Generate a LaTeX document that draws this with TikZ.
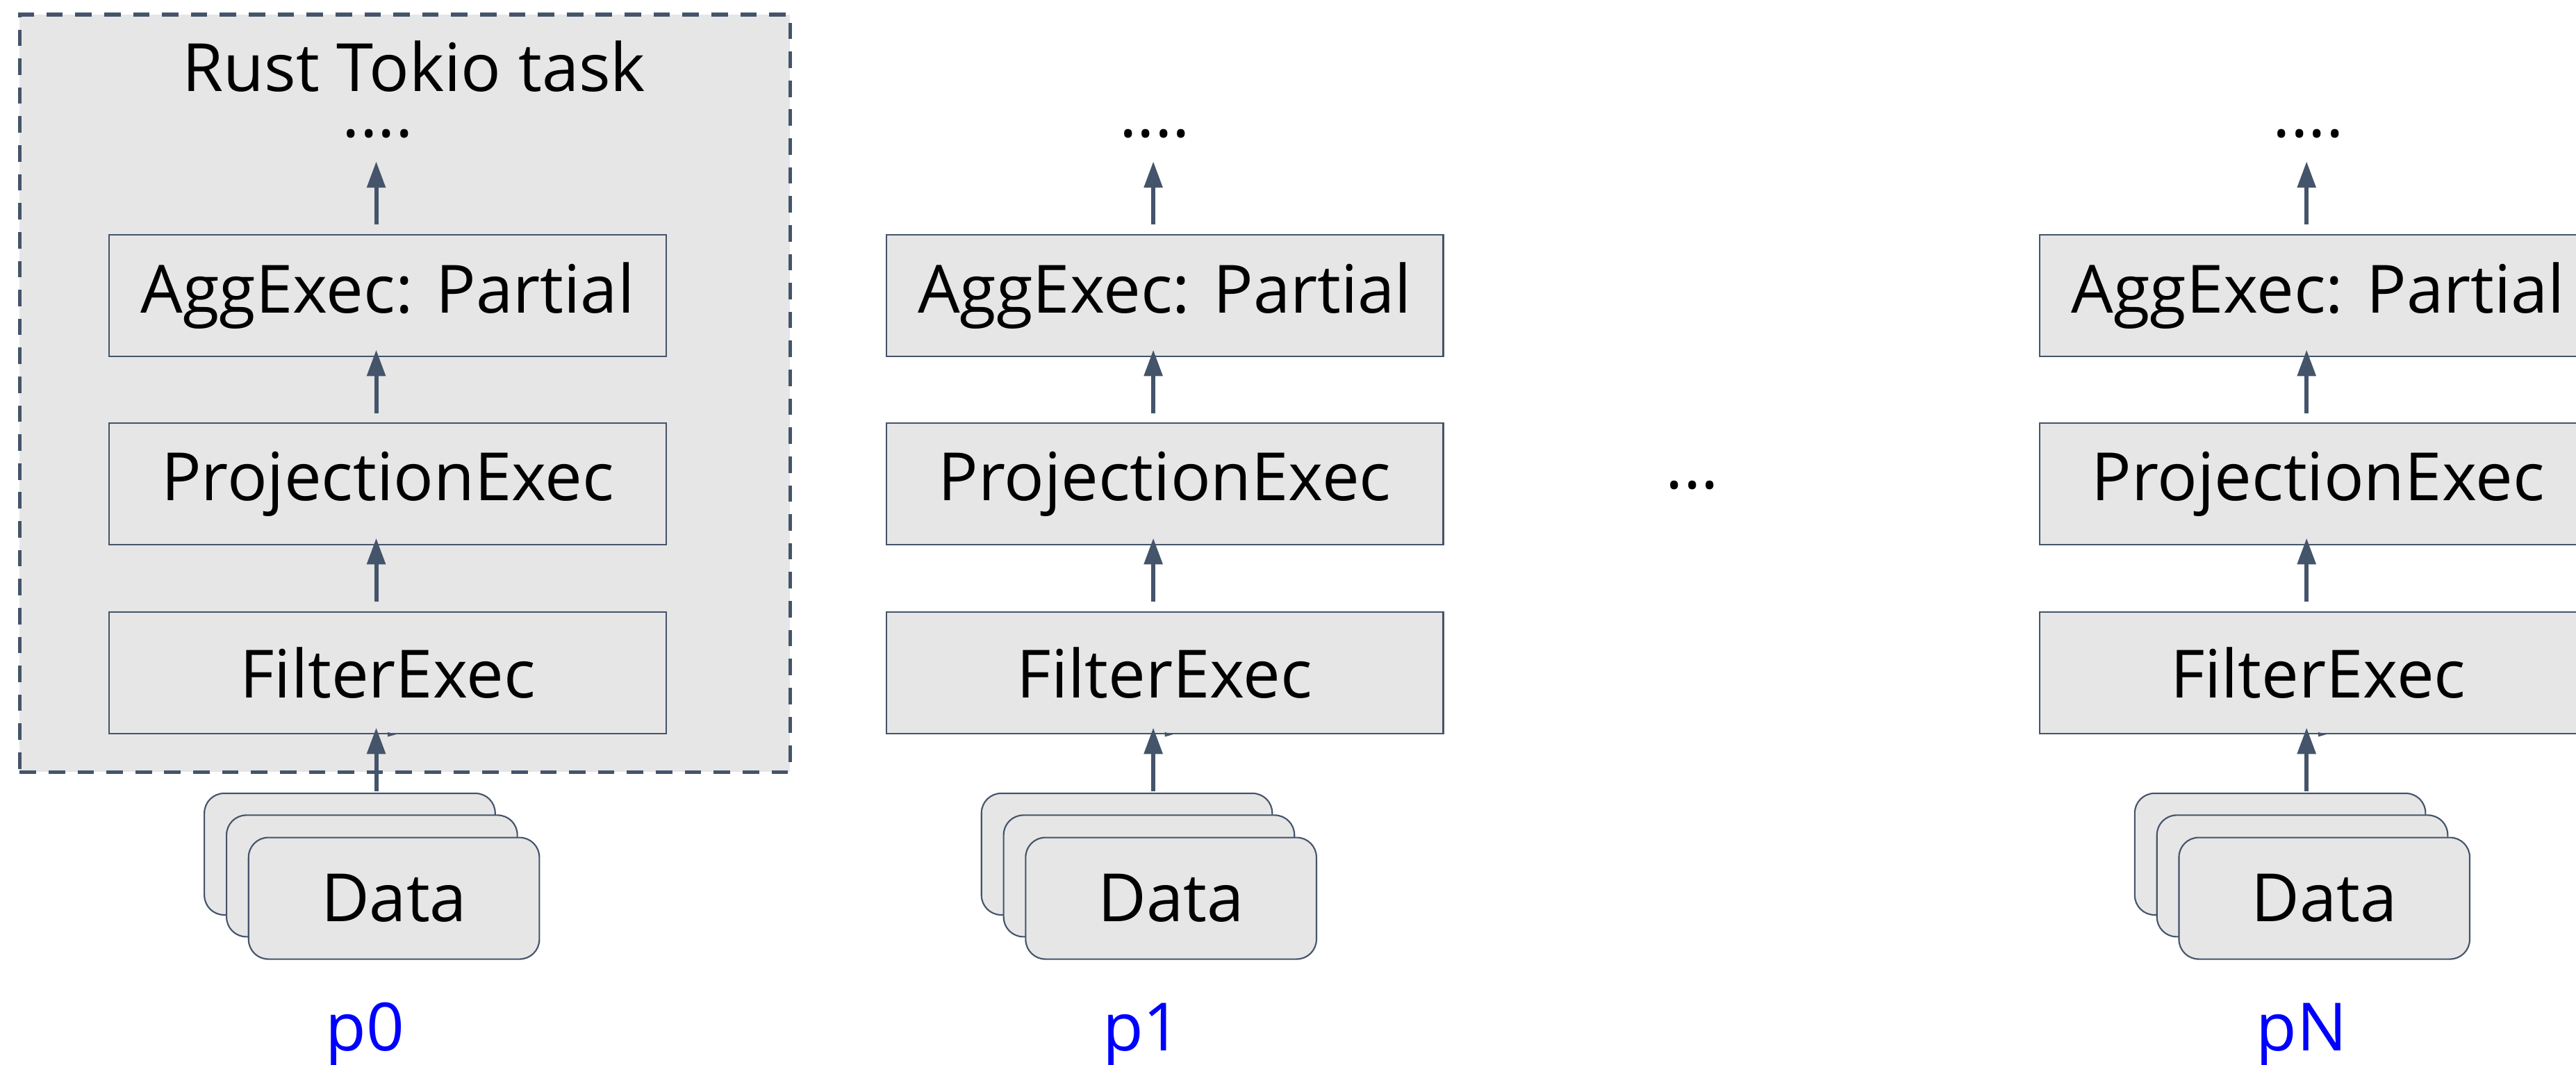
\documentclass[tikz,border=0pt]{standalone}
\usepackage{fontspec}
\setmainfont{Open Sans}
\usetikzlibrary{arrows.meta}
\definecolor{slate}{HTML}{44546A}
\definecolor{boxgray}{HTML}{E6E6E6}
\tikzset{
  opbox/.style={draw=slate, line width=0.9pt, fill=boxgray,
    minimum width=339pt, minimum height=74pt, inner sep=0pt},
  datacard/.style={draw=slate, line width=0.9pt, fill=boxgray, rounded corners=12pt,
    minimum width=177pt, minimum height=74pt, inner sep=0pt},
  flow/.style={draw=slate, line width=2.5pt, -{Triangle[length=16pt,width=11pt]}},
  taskbox/.style={draw=slate, fill=boxgray, line width=2.4pt, dash pattern=on 10pt off 7.6pt,
    minimum width=469pt, minimum height=461pt, inner sep=0pt},
  plain/.style={anchor=base, inner sep=0pt},
  plabel/.style={text=blue, anchor=base west, inner sep=0pt}
}
\begin{document}
\begin{tikzpicture}[x=1pt, y=1pt, font=\fontsize{40.5}{48}\selectfont]
\useasboundingbox (0,0) rectangle (1568,648);

% the task frame around the first pipeline
\node[taskbox] (task) at (246.5,408.5) {};
\node[plain] (title) at (252,592.3) {Rust Tokio task};

% one pipeline per partition
\foreach \dx/\lab/\k in {0/p0/a, 473/p1/b, 1175/pN/c} {
  \begin{scope}[xshift=\dx]
    \node[opbox] (agg\k)  at (236,468)   {AggExec: Partial};
    \node[opbox] (proj\k) at (236,353.4) {ProjectionExec};
    \node[opbox] (filt\k) at (236,238.4) {FilterExec};
    \node[plain] (dots\k) at (230,564.5) {....};

    \node[datacard] (back\k) at (212.9,128.1) {};
    \node[datacard] (mid\k)  at (226.4,114.8) {};
    \node[datacard] (dat\k)  at (239.8,101.2) {Data};

    \node[plabel] (lab\k) at (198,8.5) {\lab};

    \draw[flow] ([shift={(16.1,1)}]back\k.north) -- ([shift={(-7,4.1)}]filt\k.south);
    \draw[flow] ([shift={(-7,6)}]filt\k.north) -- ([shift={(-7,4.5)}]proj\k.south);
    \draw[flow] ([shift={(-7,5.5)}]proj\k.north) -- ([shift={(-7,4.5)}]agg\k.south);
    \draw[flow] ([shift={(-7,6)}]agg\k.north) -- ([shift={(-1,-14)}]dots\k.south);

    % small tick on the lower edge of the filter box
    \fill[slate] ([shift={(0,1.4)}]filt\k.south) -- ([shift={(5,0)}]filt\k.south)
      -- ([shift={(0,-1.4)}]filt\k.south) -- cycle;
  \end{scope}
}

% further partitions in between
\node[plain] (gap) at (1030,350.5) {...};
\end{tikzpicture}
\end{document}
